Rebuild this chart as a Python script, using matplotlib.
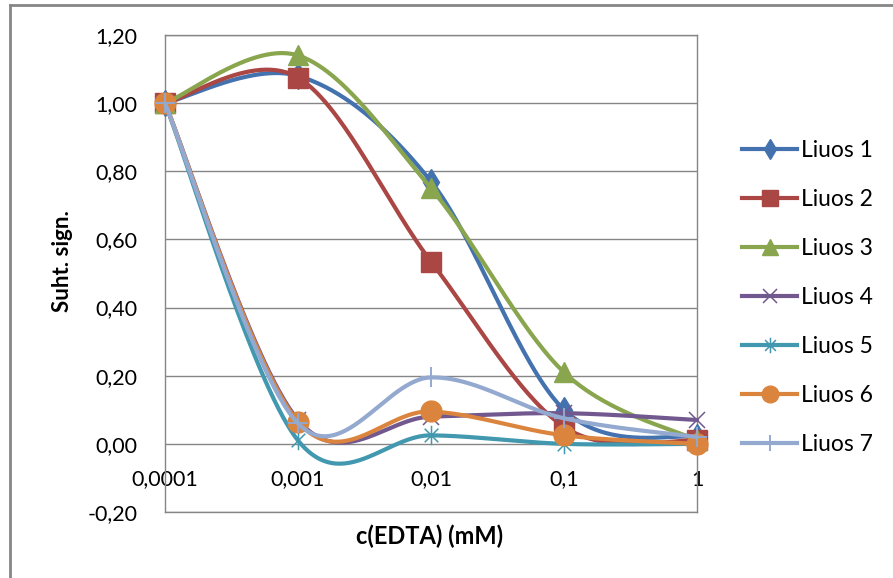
import numpy as np
import matplotlib
matplotlib.use("Agg")
import matplotlib.pyplot as plt
from matplotlib.path import Path
from matplotlib.lines import Line2D
from matplotlib.transforms import ScaledTranslation

# Concentration categories (evenly spaced category axis)
concentrations = ["0,0001", "0,001", "0,01", "0,1", "1"]

# Relative signal for each solution
liuos_1 = [1.00, 1.08, 0.77, 0.10, 0.02]
liuos_2 = [1.00, 1.075, 0.535, 0.05, 0.01]
liuos_3 = [1.00, 1.14, 0.75, 0.21, 0.01]
liuos_4 = [1.00, 0.07, 0.08, 0.09, 0.07]
liuos_5 = [1.00, 0.01, 0.025, 0.00, 0.00]
liuos_6 = [1.00, 0.065, 0.095, 0.025, 0.00]
liuos_7 = [1.00, 0.06, 0.195, 0.075, 0.02]

series_names = ["Liuos 1", "Liuos 2", "Liuos 3", "Liuos 4", "Liuos 5", "Liuos 6", "Liuos 7"]
series_values = [liuos_1, liuos_2, liuos_3, liuos_4, liuos_5, liuos_6, liuos_7]

colors = ["#4372AF", "#AA4643", "#89A54E", "#71588F", "#4198AF", "#DB843D", "#93A9CF"]

# asterisk marker: an "x" crossed by a vertical bar
asterisk = Path(
    [(-0.7, -0.7), (0.7, 0.7), (-0.7, 0.7), (0.7, -0.7), (0, -1), (0, 1)],
    [Path.MOVETO, Path.LINETO, Path.MOVETO, Path.LINETO, Path.MOVETO, Path.LINETO],
)

marker_styles = [
    dict(marker="d", ms=13, mew=1.0),
    dict(marker="s", ms=14.5, mew=1.0),
    dict(marker="^", ms=15, mew=1.0),
    dict(marker="x", ms=12, mew=1.1),
    dict(marker=asterisk, ms=14, mew=1.1),
    dict(marker="o", ms=15, mew=1.0),
    dict(marker="+", ms=15, mew=1.4),
]


def smooth_curve(xs, ys, n=60):
    """Catmull-Rom style cubic Bezier through the points."""
    pts = np.column_stack([xs, ys]).astype(float)
    m = len(pts)
    t = np.linspace(0, 1, n)[:, None]
    segs = []
    for i in range(m - 1):
        p0 = pts[max(i - 1, 0)]
        p1 = pts[i]
        p2 = pts[i + 1]
        p3 = pts[min(i + 2, m - 1)]
        c1 = p1 + (p2 - p0) / 6.0
        c2 = p2 - (p3 - p1) / 6.0
        b = ((1 - t) ** 3) * p1 + 3 * ((1 - t) ** 2) * t * c1 + 3 * (1 - t) * t ** 2 * c2 + t ** 3 * p2
        segs.append(b if i == 0 else b[1:])
    curve = np.vstack(segs)
    return curve[:, 0], curve[:, 1]


plt.rcParams["font.family"] = ["Lato", "DejaVu Sans"]

fig = plt.figure(figsize=(8.93, 5.78), dpi=100)
ax = fig.add_axes([165 / 893, 1 - 512 / 578, (697 - 165) / 893, (512 - 35) / 578])

x = np.arange(len(concentrations))
handles = []
for name, vals, col, ms in zip(series_names, series_values, colors, marker_styles):
    sx, sy = smooth_curve(x, vals)
    ax.plot(sx, sy, color=col, lw=3.0, solid_capstyle="round", clip_on=False, zorder=3)
    ax.plot(x, vals, linestyle="none", color=col, mfc=col, mec=col,
            clip_on=False, zorder=3, **ms)
    ms_leg = dict(ms)
    ms_leg["ms"] = ms["ms"] * 0.8
    handles.append(Line2D([], [], color=col, lw=3.0, mfc=col, mec=col, label=name, **ms_leg))

# axes styling
ax.set_xlim(0, len(concentrations) - 1)
ax.set_ylim(-0.2, 1.2)
yt = np.arange(-0.2, 1.21, 0.2)
ax.set_yticks(yt)
ax.set_yticklabels([f"{v:.2f}".replace(".", ",") for v in yt])
ax.set_xticks(x)
ax.set_xticklabels(concentrations)
ax.grid(axis="y", color="#868686", lw=1.0)
ax.set_axisbelow(True)
for s in ax.spines.values():
    s.set_color("#868686")
    s.set_linewidth(1.0)
ax.tick_params(axis="y", length=0, pad=20, labelsize=15.5)
ax.tick_params(axis="x", length=0, pad=0, labelsize=15.5)

# category labels sit right below the zero line
zero_frac = 0.2 / 1.4
label_tr = ax.get_xaxis_transform() + ScaledTranslation(0, -18.5 / 72, fig.dpi_scale_trans)
for tick, xi in zip(ax.xaxis.get_major_ticks(), x):
    tick.label1.set_transform(label_tr)
    tick.label1.set_position((xi, zero_frac))

ax.set_xlabel("c(EDTA) (mM)", fontsize=17, fontweight="bold")
ax.xaxis.set_label_coords(0.497, -0.026)
ax.set_ylabel("Suht. sign.", fontsize=16, fontweight="bold")
ax.yaxis.set_label_coords(-0.172, 0.526)

ax.legend(handles=handles, loc="upper left", bbox_to_anchor=(742 / 893, 1 - 140 / 578),
          bbox_transform=fig.transFigure, frameon=False, fontsize=16.5,
          handlelength=2.4, handletextpad=0.18, labelspacing=1.22, borderpad=0, borderaxespad=0)

# outer chart frame (top and left edges)
fig.add_artist(Line2D([10 / 893, 10 / 893], [0, 1 - 5 / 578], transform=fig.transFigure, color="#868686", lw=2))
fig.add_artist(Line2D([10 / 893, 1], [1 - 5 / 578, 1 - 5 / 578], transform=fig.transFigure, color="#868686", lw=2))

fig.savefig("out.png", dpi=100)
